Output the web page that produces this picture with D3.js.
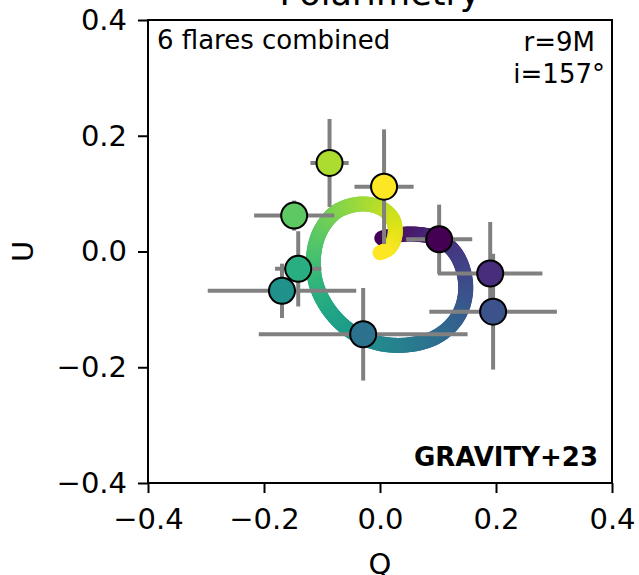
<!DOCTYPE html>
<html lang="en">
<head>
    <meta charset="UTF-8">
    <title>Polarimetry</title>
    <script src="https://cdn.jsdelivr.net/npm/d3@7" type="text/javascript"></script>
    <style>
        body { margin: 0; background: #fff; }
        svg text { font-family: "DejaVu Sans", sans-serif; }
    </style>
</head>
<body>
<svg width="639" height="575"></svg>
<script type="text/javascript">
    // flare points (Q, U) with their errors, ordered as in the colour map
    var flareQ = [0.102, 0.190, 0.195, -0.029, -0.169, -0.141, -0.148, -0.087, 0.007];
    var flareU = [0.021, -0.038, -0.104, -0.143, -0.068, -0.030, 0.062, 0.153, 0.112];
    var flareQerr = [0.057, 0.090, 0.110, 0.180, 0.128, 0.040, 0.069, 0.033, 0.051];
    var flareUerr = [0.060, 0.089, 0.100, 0.080, 0.047, 0.065, 0.026, 0.076, 0.099];

    // model loop (hot spot, r=9M, i=157deg)
    var modelQ = [0.003, 0.034, 0.063, 0.103, 0.132, 0.147, 0.144, 0.126, 0.092, 0.040, -0.012, -0.057,
        -0.092, -0.112, -0.114, -0.102, -0.075, -0.034, 0.000, 0.022, 0.026, 0.016, 0.000];
    var modelU = [0.023, 0.029, 0.030, 0.021, -0.006, -0.049, -0.090, -0.124, -0.150, -0.162, -0.156, -0.133,
        -0.095, -0.049, -0.003, 0.037, 0.069, 0.082, 0.076, 0.056, 0.029, 0.006, -0.002];

    var ticks = [-0.4, -0.2, 0.0, 0.2, 0.4];

    var svg = d3.select('svg');
    var pLeft = 148, pRight = 612, pTop = 20, pBottom = 483;

    var x = d3.scaleLinear().domain([-0.4, 0.4]).range([pLeft, pRight]);
    var y = d3.scaleLinear().domain([-0.4, 0.4]).range([pBottom, pTop]);

    //model curve, coloured along its length
    var line = d3.line()
        .x(function (d) { return x(d[0]); })
        .y(function (d) { return y(d[1]); })
        .curve(d3.curveCatmullRom);
    var pts = modelQ.map(function (q, i) { return [q, modelU[i]]; });
    var guide = svg.append('path').attr('d', line(pts)).attr('fill', 'none').attr('stroke', 'none');
    var len = guide.node().getTotalLength();
    var n = 200;
    var gCurve = svg.append('g');
    for (var k = 0; k < n; k++) {
        var a = guide.node().getPointAtLength(len * k / n);
        var b = guide.node().getPointAtLength(len * (k + 1) / n);
        gCurve.append('line')
            .attr('x1', a.x).attr('y1', a.y)
            .attr('x2', b.x).attr('y2', b.y)
            .attr('stroke', d3.interpolateViridis((k + 0.5) / n))
            .attr('stroke-width', 15)
            .attr('stroke-linecap', 'round');
    }

    //error bars
    var idx = d3.range(flareQ.length);
    var gErr = svg.append('g').attr('stroke', '#808080').attr('stroke-width', 4);
    gErr.selectAll('.xe').data(idx).enter().append('line')
        .attr('x1', function (i) { return x(flareQ[i] - flareQerr[i]); })
        .attr('x2', function (i) { return x(flareQ[i] + flareQerr[i]); })
        .attr('y1', function (i) { return y(flareU[i]); })
        .attr('y2', function (i) { return y(flareU[i]); });
    gErr.selectAll('.ye').data(idx).enter().append('line')
        .attr('x1', function (i) { return x(flareQ[i]); })
        .attr('x2', function (i) { return x(flareQ[i]); })
        .attr('y1', function (i) { return y(flareU[i] - flareUerr[i]); })
        .attr('y2', function (i) { return y(flareU[i] + flareUerr[i]); });

    //points
    svg.append('g').selectAll('circle').data(idx).enter().append('circle')
        .attr('cx', function (i) { return x(flareQ[i]); })
        .attr('cy', function (i) { return y(flareU[i]); })
        .attr('r', 13)
        .attr('fill', function (i) { return d3.interpolateViridis(i / (flareQ.length - 1)); })
        .attr('stroke', '#000')
        .attr('stroke-width', 2);

    //axes
    var fmt = d3.format('.1f');
    var xAxis = d3.axisBottom(x).tickValues(ticks).tickFormat(fmt).tickSize(10).tickPadding(15);
    var yAxis = d3.axisLeft(y).tickValues(ticks).tickFormat(fmt).tickSize(10).tickPadding(11);
    var gx = svg.append('g').attr('transform', 'translate(0,' + pBottom + ')').call(xAxis);
    var gy = svg.append('g').attr('transform', 'translate(' + pLeft + ',0)').call(yAxis);
    [gx, gy].forEach(function (g) {
        g.select('.domain').remove();
        g.selectAll('line').attr('stroke', '#000').attr('stroke-width', 2);
        g.selectAll('text').attr('font-size', 29).attr('font-family', 'DejaVu Sans').attr('fill', '#000');
    });

    svg.append('rect')
        .attr('x', pLeft).attr('y', pTop)
        .attr('width', pRight - pLeft).attr('height', pBottom - pTop)
        .attr('fill', 'none').attr('stroke', '#000').attr('stroke-width', 2);

    //labels
    svg.append('text').attr('x', (pLeft + pRight) / 2).attr('y', 5)
        .attr('text-anchor', 'middle').attr('font-size', 35).text('Polarimetry');
    svg.append('text').attr('x', (pLeft + pRight) / 2).attr('y', 574)
        .attr('text-anchor', 'middle').attr('font-size', 29).text('Q');
    svg.append('text').attr('transform', 'translate(33,' + (pTop + pBottom) / 2 + ') rotate(-90)')
        .attr('text-anchor', 'middle').attr('font-size', 29).text('U');

    svg.append('text').attr('x', pLeft + 9).attr('y', 49)
        .attr('font-size', 26).text('6 flares combined');

    var info = ['r=9M', 'i=157°'];
    var infoText = svg.append('g').selectAll('text').data(info).enter().append('text')
        .attr('y', function (d, i) { return 51 + i * 32; })
        .attr('font-size', 26)
        .attr('text-anchor', 'middle')
        .text(function (d) { return d; });
    var wMax = d3.max(infoText.nodes(), function (t) { return t.getComputedTextLength(); });
    infoText.attr('x', pRight - 7 - wMax / 2);

    svg.append('text').attr('x', pRight - 14).attr('y', 466)
        .attr('text-anchor', 'end').attr('font-size', 26).attr('font-weight', 'bold')
        .text('GRAVITY+23');
</script>
</body>
</html>
